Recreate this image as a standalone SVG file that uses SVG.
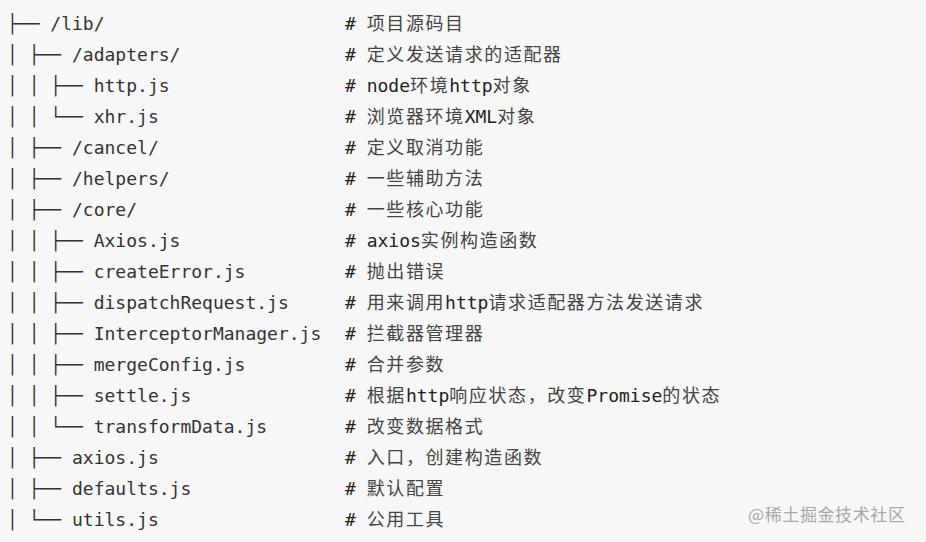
<svg xmlns="http://www.w3.org/2000/svg" width="926" height="542" viewBox="0 0 926 542">
<style>
.t{font-family:"DejaVu Sans Mono","Liberation Mono","Noto Sans CJK SC",monospace;font-size:18px;fill:#333}
.c{font-family:"DejaVu Sans Mono","Liberation Mono","Noto Sans CJK SC",monospace;font-size:18px;fill:#222}
.z{font-family:"Noto Sans CJK SC",sans-serif;font-size:18px;letter-spacing:1.6px;fill:#444}
.wm{font-family:"Noto Sans CJK SC","Liberation Sans",sans-serif;font-size:17px;letter-spacing:0.6px;fill:#a8a8a8}
</style>
<rect width="926" height="542" fill="#f7f7f7"/>
<g id="line0"><text class="t" x="7" y="30">├── /lib/</text><text class="c" x="345" y="30"># <tspan class="z">项目源码目</tspan></text></g>
<g id="line1"><text class="t" x="7" y="61">│ ├── /adapters/</text><text class="c" x="345" y="61"># <tspan class="z">定义发送请求的适配器</tspan></text></g>
<g id="line2"><text class="t" x="7" y="92">│ │ ├── http.js</text><text class="c" x="345" y="92"># node<tspan class="z">环境</tspan>http<tspan class="z">对象</tspan></text></g>
<g id="line3"><text class="t" x="7" y="123">│ │ └── xhr.js</text><text class="c" x="345" y="123"># <tspan class="z">浏览器环境</tspan>XML<tspan class="z">对象</tspan></text></g>
<g id="line4"><text class="t" x="7" y="154">│ ├── /cancel/</text><text class="c" x="345" y="154"># <tspan class="z">定义取消功能</tspan></text></g>
<g id="line5"><text class="t" x="7" y="185">│ ├── /helpers/</text><text class="c" x="345" y="185"># <tspan class="z">一些辅助方法</tspan></text></g>
<g id="line6"><text class="t" x="7" y="216">│ ├── /core/</text><text class="c" x="345" y="216"># <tspan class="z">一些核心功能</tspan></text></g>
<g id="line7"><text class="t" x="7" y="247">│ │ ├── Axios.js</text><text class="c" x="345" y="247"># axios<tspan class="z">实例构造函数</tspan></text></g>
<g id="line8"><text class="t" x="7" y="278">│ │ ├── createError.js</text><text class="c" x="345" y="278"># <tspan class="z">抛出错误</tspan></text></g>
<g id="line9"><text class="t" x="7" y="309">│ │ ├── dispatchRequest.js</text><text class="c" x="345" y="309"># <tspan class="z">用来调用</tspan>http<tspan class="z">请求适配器方法发送请求</tspan></text></g>
<g id="line10"><text class="t" x="7" y="340">│ │ ├── InterceptorManager.js</text><text class="c" x="345" y="340"># <tspan class="z">拦截器管理器</tspan></text></g>
<g id="line11"><text class="t" x="7" y="371">│ │ ├── mergeConfig.js</text><text class="c" x="345" y="371"># <tspan class="z">合并参数</tspan></text></g>
<g id="line12"><text class="t" x="7" y="402">│ │ ├── settle.js</text><text class="c" x="345" y="402"># <tspan class="z">根据</tspan>http<tspan class="z">响应状态，改变</tspan>Promise<tspan class="z">的状态</tspan></text></g>
<g id="line13"><text class="t" x="7" y="433">│ │ └── transformData.js</text><text class="c" x="345" y="433"># <tspan class="z">改变数据格式</tspan></text></g>
<g id="line14"><text class="t" x="7" y="464">│ ├── axios.js</text><text class="c" x="345" y="464"># <tspan class="z">入口，创建构造函数</tspan></text></g>
<g id="line15"><text class="t" x="7" y="495">│ ├── defaults.js</text><text class="c" x="345" y="495"># <tspan class="z">默认配置</tspan></text></g>
<g id="line16"><text class="t" x="7" y="526">│ └── utils.js</text><text class="c" x="345" y="526"># <tspan class="z">公用工具</tspan></text></g>
<g id="watermark"><text class="wm" x="748" y="521">@稀土掘金技术社区</text></g>
</svg>
